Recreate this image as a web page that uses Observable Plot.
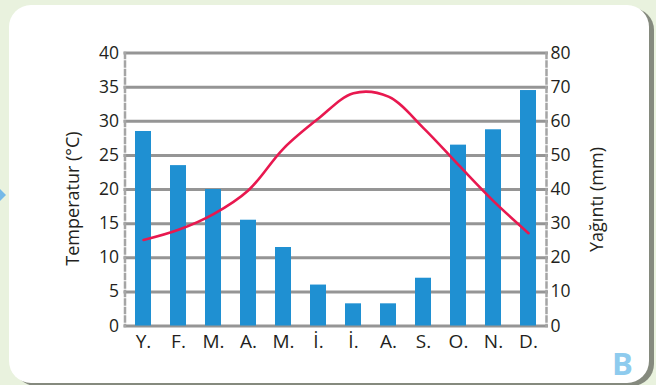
<!DOCTYPE html>
<html><head><meta charset="utf-8">
<script src="https://cdn.jsdelivr.net/npm/d3@7"></script>
<script src="https://cdn.jsdelivr.net/npm/@observablehq/plot@0.6"></script>
<style>
html,body{margin:0;padding:0;}
body{width:656px;height:385px;background:#e9f2de;position:relative;overflow:hidden;font-family:"Open Sans",sans-serif;}
#panel{position:absolute;left:9px;top:5px;width:640px;height:378px;background:#fff;border-radius:22px;box-shadow:5px 3px 0 #858a7e;}
#tri{position:absolute;left:0;top:189px;width:0;height:0;border-top:6px solid transparent;border-bottom:6px solid transparent;border-left:6px solid #74b9e8;}
#badge{position:absolute;left:612px;top:348px;font:bold 31px "Open Sans",sans-serif;color:#8ecbee;line-height:1;}
#chart{position:absolute;left:0;top:0;}
</style></head><body>
<div id="panel"></div><div id="tri"></div><div id="badge">B</div><div id="chart"></div>
<script>
const months = ["Y.","F.","M.","A.","M.","İ.","İ.","A.","S.","O.","N.","D."];
const precipitation = [57, 47, 40, 31, 23, 12, 6.5, 6.5, 14, 53, 57.5, 69];
const temperature = [12.6, 14.1, 16.4, 19.9, 26, 30.4, 34.1, 33.6, 29, 23.6, 18.3, 13.6];
const tempTicks = [0, 5, 10, 15, 20, 25, 30, 35, 40];
const precipTicks = [0, 10, 20, 30, 40, 50, 60, 70, 80];
const tempLabel = "Temperatur (°C)";
const precipLabel = "Yağıntı (mm)";

const ratio = precipTicks[precipTicks.length - 1] / tempTicks[tempTicks.length - 1];
const data = months.map((m, i) => ({i, m, p: precipitation[i], t: temperature[i]}));
const textColor = "#231f20";

const chart = Plot.plot({
  width: 656,
  height: 385,
  marginTop: 52.5,
  marginBottom: 59.5,
  marginLeft: 124.5,
  marginRight: 110,
  style: {background: "transparent", fontFamily: "'Open Sans', sans-serif", color: textColor, overflow: "visible"},
  x: {type: "band", domain: d3.range(months.length), paddingInner: 0.545, paddingOuter: 0.27, label: null},
  y: {domain: [0, 80], label: null},
  marks: [
    Plot.ruleY(precipTicks, {stroke: "#959595", strokeWidth: 3, insetLeft: -1, insetRight: -2}),
    Plot.frame({anchor: "left", stroke: "#a5a5a5", strokeWidth: 2.5, strokeDasharray: "5,3.5"}),
    Plot.frame({anchor: "right", stroke: "#a5a5a5", strokeWidth: 2.5, strokeDasharray: "5,3.5"}),
    Plot.barY(data, {x: "i", y: "p", fill: "#1f90d2"}),
    Plot.line(data, {x: "i", y: d => d.t * ratio, stroke: "#e8184f", strokeWidth: 2.6, curve: "catmull-rom"}),
    Plot.axisX({tickSize: 0, tickPadding: 8, fontSize: 19, tickFormat: i => months[i], label: null, fill: textColor}),
    Plot.axisY({anchor: "left", ticks: precipTicks, tickFormat: d => tempTicks[precipTicks.indexOf(d)], tickSize: 0, tickPadding: 6, fontSize: 17.5, label: null, fill: textColor}),
    Plot.axisY({anchor: "right", ticks: precipTicks, tickSize: 0, tickPadding: 4, fontSize: 17.5, label: null, fill: textColor}),
    Plot.text([tempLabel], {text: d => d, frameAnchor: "left", textAnchor: "middle", dx: -52, dy: 9, rotate: -90, fontSize: 18, fill: textColor}),
    Plot.text([precipLabel], {text: d => d, frameAnchor: "right", textAnchor: "middle", dx: 51, dy: 10, rotate: -90, fontSize: 18, fill: textColor})
  ]
});
document.getElementById("chart").appendChild(chart);
</script>
</body></html>
